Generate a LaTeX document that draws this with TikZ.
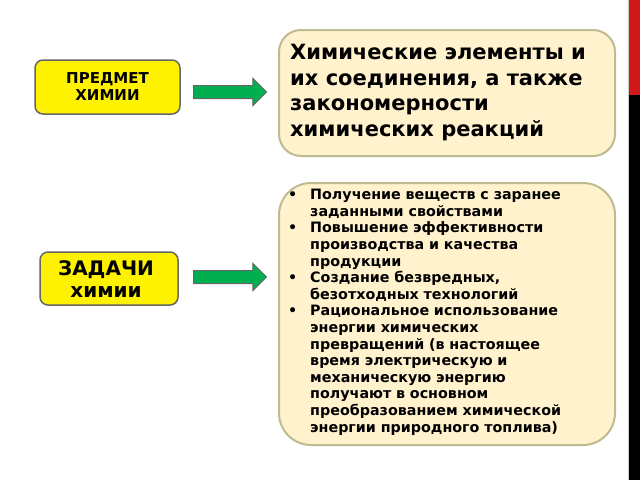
\documentclass[tikz,border=0pt]{standalone}
\usepackage{fontspec}
\setmainfont{DejaVu Sans}
\usetikzlibrary{shapes.arrows}
\definecolor{boxfill}{HTML}{FFF2CC}
\definecolor{boxline}{HTML}{BDBB90}
\definecolor{arr}{HTML}{00B050}
\newcommand{\bitem}[1]{\hangindent=22pt\hangafter=1\noindent\makebox[22pt][l]{•}#1\par}
\tikzset{x=1pt,y=-1pt,
 ybox/.style={draw=black!60,line width=1.5pt,fill=yellow,rounded corners=8pt},
 cbox/.style={draw=boxline,line width=2pt,fill=boxfill},
 garrow/.style={single arrow,draw=black!60,fill=arr,line width=1pt,minimum height=73pt,minimum width=24pt,inner sep=0pt,anchor=west}}
\begin{document}
\begin{tikzpicture}
\useasboundingbox (0,0) rectangle (640,480);
\fill[white] (0,0) rectangle (640,480);
\draw[black!20] (628,0) -- (628,480);
\fill[red!80!black!90] (629,0) rectangle (640,95);
\fill[black] (629,95) rectangle (640,480);
\draw[ybox] (35,60) rectangle (180,114);
\node[font=\bfseries\fontsize{15}{17}\selectfont,align=center] (p) at (107.5,87) {ПРЕДМЕТ\\ХИМИИ};
\node[garrow] (a1) at (193,92) {\rule{0pt}{12pt}};
\draw[cbox,rounded corners=22pt] (279,30) rectangle (615,156);
\node[font=\bfseries\fontsize{21}{25.5}\selectfont,align=left,anchor=north west,inner sep=0pt] (t1) at (290,44) {Химические элементы и\\их соединения, а также\\закономерности\\химических реакций};
\draw[ybox] (40,252) rectangle (178,305);
\node[font=\bfseries\fontsize{20}{22}\selectfont,align=center] (z) at (106,279) {ЗАДАЧИ\\химии};
\node[garrow] (a2) at (193,277) {\rule{0pt}{12pt}};
\draw[cbox,rounded corners=32pt] (279,183) rectangle (615,445);
\node[font=\bfseries\fontsize{14.3}{16.6}\selectfont,anchor=north west,text width=292pt,inner sep=0pt] (t2) at (288,189) {%
\bitem{Получение веществ с заранее заданными свойствами}
\bitem{Повышение эффективности производства и качества продукции}
\bitem{Создание безвредных, безотходных технологий}
\bitem{Рациональное использование энергии химических превращений (в настоящее время электрическую и механическую энергию получают в основном преобразованием химической энергии природного топлива)}};
\end{tikzpicture}
\end{document}
